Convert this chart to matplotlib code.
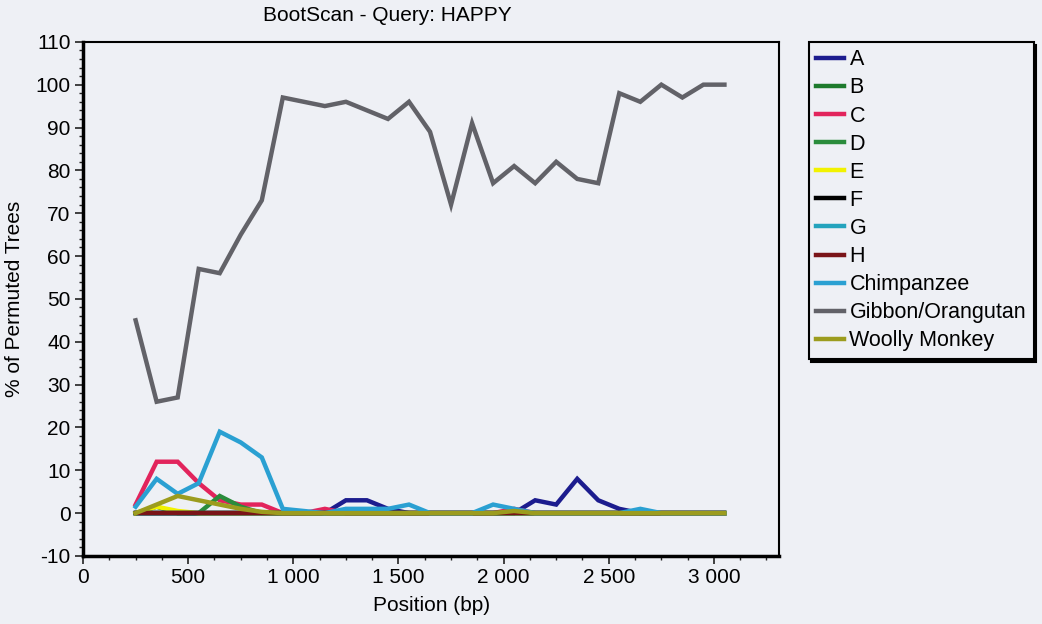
import numpy as np
import matplotlib.pyplot as plt
from matplotlib.ticker import MultipleLocator, FuncFormatter

plt.rcParams['font.family'] = ['Liberation Sans', 'DejaVu Sans']
plt.rcParams['axes.unicode_minus'] = False

# window positions (bp), one point every 100 bp
position = [250, 350, 450, 550, 650, 750, 850, 950, 1050, 1150, 1250, 1350, 1450, 1550,
            1650, 1750, 1850, 1950, 2050, 2150, 2250, 2350, 2450, 2550, 2650, 2750,
            2850, 2950, 3050]

# % of permuted trees per reference group
a_vals = [0, 0, 0, 0, 0, 0, 0, 0, 0, 0, 3, 3, 1, 0, 0, 0, 0, 0, 0, 3, 2, 8, 3, 1, 0, 0, 0, 0, 0]
b_vals = [0, 1.5, 0, 0, 0, 0, 0, 0, 0, 0, 0, 0, 0, 0, 0, 0, 0, 0, 0, 0, 0, 0, 0, 0, 0, 0, 0, 0, 0]
c_vals = [2, 12, 12, 7, 3, 2, 2, 0, 0, 1, 0, 0, 0, 0, 0, 0, 0, 0, 1, 0, 0, 0, 0, 0, 0, 0, 0, 0, 0]
d_vals = [0, 0, 0, 0, 4, 1.5, 0, 0, 0, 0, 0, 0, 0, 0, 0, 0, 0, 0, 0, 0, 0, 0, 0, 0, 0, 0, 0, 0, 0]
e_vals = [0, 1.5, 0.5, 0, 0, 0, 0, 0, 0, 0, 0, 0, 0, 0, 0, 0, 0, 0, 0, 0, 0, 0, 0, 0, 0, 0, 0, 0, 0]
f_vals = [0] * 29
g_vals = [0] * 29
h_vals = [0] * 29
chimp_vals = [1.5, 8, 4.5, 7, 19, 16.5, 13, 1, 0.5, 0, 1, 1, 1, 2, 0, 0, 0, 2, 1, 0, 0, 0, 0, 0, 1, 0, 0, 0, 0]
gibbon_vals = [45, 26, 27, 57, 56, 65, 73, 97, 96, 95, 96, 94, 92, 96, 89, 72, 91, 77, 81,
               77, 82, 78, 77, 98, 96, 100, 97, 100, 100]
woolly_vals = [0, 2, 4, 3, 2, 1, 0.3, 0, 0, 0, 0, 0, 0, 0, 0, 0, 0, 0, 0.5, 0, 0, 0, 0, 0, 0, 0, 0, 0, 0]

labels = ['A', 'B', 'C', 'D', 'E', 'F', 'G', 'H', 'Chimpanzee', 'Gibbon/Orangutan', 'Woolly Monkey']
series = [a_vals, b_vals, c_vals, d_vals, e_vals, f_vals, g_vals, h_vals,
          chimp_vals, gibbon_vals, woolly_vals]
colors = ['#1c1c8e', '#1d7a2c', '#e2245c', '#2a8c3c', '#f2f200', '#000000', '#23a3bd',
          '#7a1418', '#2aa0d2', '#626268', '#9c9c1e']

bg = '#eef0f5'
fig = plt.figure(figsize=(10.42, 6.24), dpi=100, facecolor=bg)
ax = fig.add_axes([0.0797, 0.109, 0.668, 0.824], facecolor=bg)

for vals, lab, col in zip(series, labels, colors):
    ax.plot(position, vals, color=col, lw=3.2, label=lab, solid_joinstyle='miter')

ax.set_xlim(0, 3310)
ax.set_ylim(-10, 110)
ax.xaxis.set_major_locator(MultipleLocator(500))
ax.xaxis.set_minor_locator(MultipleLocator(125))
ax.yaxis.set_major_locator(MultipleLocator(10))
ax.yaxis.set_minor_locator(MultipleLocator(2))
ax.xaxis.set_major_formatter(FuncFormatter(lambda v, p: f'{int(v):,}'.replace(',', ' ')))
ax.tick_params(which='major', direction='out', length=6, width=1.2, labelsize=15, color='#222222', pad=3)
ax.tick_params(which='minor', direction='out', length=3, width=1.0, color='#222222')
for side in ['left', 'bottom']:
    ax.spines[side].set_linewidth(2.5)
for side in ['top', 'right']:
    ax.spines[side].set_linewidth(1.5)

ax.set_xlabel('Position (bp)', fontsize=15, labelpad=6)
ax.set_ylabel('% of Permuted Trees', fontsize=15, labelpad=8)
fig.text(0.372, 0.975, 'BootScan - Query: HAPPY', ha='center', va='center', fontsize=15)

leg = fig.legend(loc='upper left', bbox_to_anchor=(0.776, 0.933), borderaxespad=0, fontsize=15.5,
                 frameon=True, fancybox=False, edgecolor='black', facecolor=bg,
                 handlelength=1.3, handletextpad=0.25, labelspacing=0.33, borderpad=0.35,
                 shadow={'color': 'black', 'alpha': 1.0})
leg.get_frame().set_linewidth(1.5)
leg.get_frame().set_alpha(1.0)

fig.savefig('out.png', dpi=100, facecolor=bg)
